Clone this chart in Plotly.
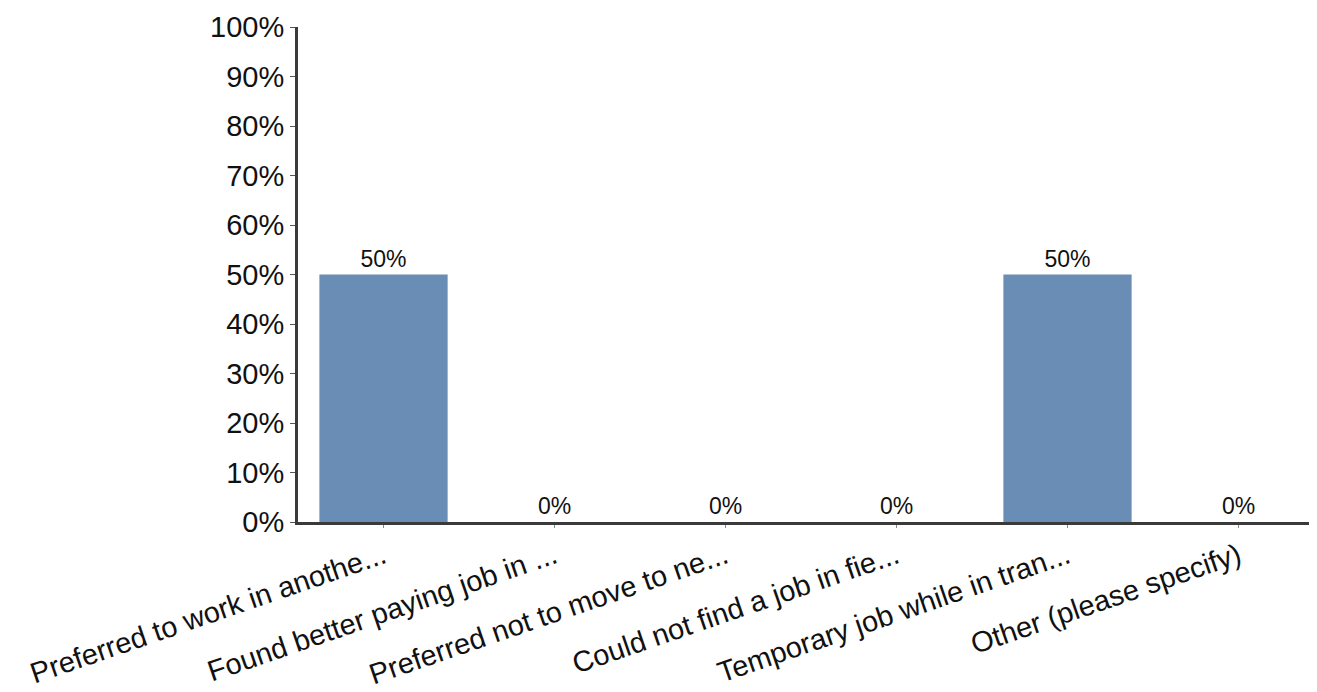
import plotly.graph_objects as go

categories = [
    "Preferred to work in anothe...",
    "Found better paying job in ...",
    "Preferred not to move to ne...",
    "Could not find a job in fie...",
    "Temporary job while in tran...",
    "Other (please specify)",
]
values = [50, 0, 0, 0, 50, 0]
y_ticks = list(range(0, 101, 10))
y_tick_labels = [f"{v}%" for v in y_ticks]
bar_labels = [f"{v}%" for v in values]

FONT = "Liberation Sans, Arial, sans-serif"

fig = go.Figure(
    go.Bar(
        x=categories,
        y=values,
        marker=dict(color="#6a8db6", line=dict(width=0)),
        text=bar_labels,
        textposition="outside",
        textfont=dict(size=23, color="#111", family=FONT),
        cliponaxis=False,
    )
)

fig.update_layout(
    width=1317,
    height=692,
    margin=dict(l=290, r=1, t=19, b=178),
    plot_bgcolor="white",
    paper_bgcolor="white",
    bargap=0.25,
    showlegend=False,
    font=dict(family=FONT, color="#111"),
)
fig.update_yaxes(
    range=[0, 100],
    tickvals=y_ticks,
    ticktext=y_tick_labels,
    tickfont=dict(size=29),
    showgrid=False,
    zeroline=False,
    showline=True,
    linecolor="#3a3a3a",
    linewidth=3,
    ticks="outside",
    ticklen=5,
    tickwidth=1,
    tickcolor="#555",
    automargin=False,
)
fig.update_xaxes(
    tickangle=-19,
    tickfont=dict(size=29),
    showgrid=False,
    showline=True,
    linecolor="#3a3a3a",
    linewidth=3,
    ticks="outside",
    ticklen=3,
    tickwidth=1,
    tickcolor="#888",
    automargin=False,
)

fig.write_html("out.html")
